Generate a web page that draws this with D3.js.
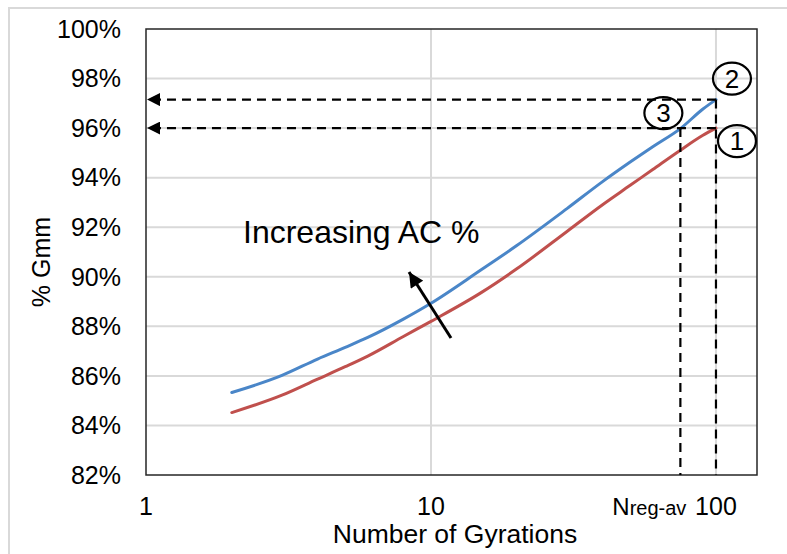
<!DOCTYPE html>
<html>
<head>
<meta charset="utf-8">
<script src="https://cdn.jsdelivr.net/npm/d3@7"></script>
<style>
body{margin:0;background:#fff;}
text{font-family:"Liberation Sans",Arial,sans-serif;fill:#000;}
</style>
</head>
<body>
<div class="chart"></div>
<script>
// gyrations and %Gmm
var gyrations = [2,3,4,5,6,8,10,15,20,30,40,50,60,75,90,100]
var gmmHighAC = [85.33,86.02,86.68,87.15,87.55,88.29,88.93,90.28,91.26,92.75,93.84,94.63,95.25,95.98,96.77,97.15]
var gmmLowAC = [84.52,85.22,85.87,86.37,86.8,87.59,88.2,89.36,90.32,91.83,92.91,93.69,94.33,95.11,95.71,96.0]
var yTicks = [82,84,86,88,90,92,94,96,98,100]
var xTicks = [1,10,100]
var nRegAv = 75
var nDesign = 100

function drawChart(){
	var width = 787, height = 554
	var svg = d3.select(".chart").append("svg").attr("width",width).attr("height",height)

	var x = d3.scaleLog().domain([1,139.3]).range([146,757])
	var y = d3.scaleLinear().domain([82,100]).range([475,29])

	// outer frame
	svg.append("rect").attr("x",9).attr("y",8).attr("width",820).attr("height",600)
	.attr("fill","none").attr("stroke","#d9d9d9").attr("stroke-width",2)

	var defs = svg.append("defs")
	defs.append("marker").attr("id","headDash").attr("viewBox","0 0 10 10")
	.attr("refX",10).attr("refY",5).attr("markerUnits","userSpaceOnUse")
	.attr("markerWidth",17).attr("markerHeight",13).attr("orient","auto")
	.append("path").attr("d","M0,0 L10,5 L0,10 Z").attr("fill","#000")
	defs.append("marker").attr("id","headBig").attr("viewBox","0 0 10 10")
	.attr("refX",10).attr("refY",5).attr("markerUnits","userSpaceOnUse")
	.attr("markerWidth",16).attr("markerHeight",15).attr("orient","auto")
	.append("path").attr("d","M0,0 L10,5 L0,10 Z").attr("fill","#000")

	// gridlines
	svg.append("g").selectAll("line").data(yTicks.slice(1,-1)).enter().append("line")
	.attr("x1",x.range()[0]).attr("x2",x.range()[1])
	.attr("y1",function(d){return y(d)}).attr("y2",function(d){return y(d)})
	.attr("stroke","#d9d9d9").attr("stroke-width",2)
	svg.append("g").selectAll("line").data(xTicks.slice(1)).enter().append("line")
	.attr("x1",function(d){return x(d)}).attr("x2",function(d){return x(d)})
	.attr("y1",y(82)).attr("y2",y(100))
	.attr("stroke","#d9d9d9").attr("stroke-width",2)

	// tick labels
	svg.append("g").selectAll("text").data(yTicks).enter().append("text")
	.attr("x",121).attr("y",function(d){return y(d)}).attr("dy","0.35em")
	.attr("text-anchor","end").style("font-size","25px")
	.text(function(d){return d+"%"})
	svg.append("g").selectAll("text").data(xTicks).enter().append("text")
	.attr("x",function(d){return x(d)}).attr("y",515)
	.attr("text-anchor","middle").style("font-size","25px")
	.text(function(d){return d})

	var nLabel = svg.append("text").attr("x",x(nRegAv)+6).attr("y",515).attr("text-anchor","end")
	nLabel.append("tspan").style("font-size","24px").text("N")
	nLabel.append("tspan").style("font-size","20px").text("reg-av")

	// axis titles
	svg.append("text").attr("x",455).attr("y",543).attr("text-anchor","middle")
	.style("font-size","26.5px").text("Number of Gyrations")
	svg.append("text").attr("transform","translate(50,262) rotate(-90)").attr("text-anchor","middle")
	.style("font-size","25px").text("% Gmm")

	// plot border
	svg.append("rect").attr("x",x.range()[0]).attr("y",y(100))
	.attr("width",x.range()[1]-x.range()[0]).attr("height",y(82)-y(100))
	.attr("fill","none").attr("stroke","#262626").attr("stroke-width",1.5)

	// curves
	var line = d3.line().x(function(d){return x(d[0])}).y(function(d){return y(d[1])}).curve(d3.curveMonotoneX)
	var series = [{vals:gmmLowAC,color:"#c0504d"},{vals:gmmHighAC,color:"#4a86c8"}]
	svg.append("g").selectAll("path").data(series).enter().append("path")
	.attr("d",function(s){return line(gyrations.map(function(g,i){return [g,s.vals[i]]}))})
	.attr("fill","none").attr("stroke",function(s){return s.color})
	.attr("stroke-width",3).attr("stroke-linecap","round")

	// dashed guides
	var hiEnd = gmmHighAC[gmmHighAC.length-1]
	var loEnd = gmmLowAC[gmmLowAC.length-1]
	var guides = [
		[x(nDesign),y(hiEnd),x(1)+1,y(hiEnd),true],
		[x(nDesign),y(loEnd),x(1)+1,y(loEnd),true],
		[x(nDesign),y(hiEnd),x(nDesign),y(82),false],
		[x(nRegAv),y(loEnd),x(nRegAv),y(82),false]
	]
	svg.append("g").selectAll("line").data(guides).enter().append("line")
	.attr("x1",function(d){return d[0]}).attr("y1",function(d){return d[1]})
	.attr("x2",function(d){return d[2]}).attr("y2",function(d){return d[3]})
	.attr("stroke","#000").attr("stroke-width",2.2).attr("stroke-dasharray","9,6")
	.attr("marker-end",function(d){return d[4] ? "url(#headDash)" : null})

	// increasing AC arrow
	svg.append("line").attr("x1",451).attr("y1",338).attr("x2",409).attr("y2",272)
	.attr("stroke","#000").attr("stroke-width",3).attr("marker-end","url(#headBig)")
	svg.append("text").attr("x",243).attr("y",243).style("font-size","32px").text("Increasing AC %")

	// numbered callouts
	var callouts = [
		{n:"1",cx:x(nDesign)+21,cy:y(loEnd)+13},
		{n:"2",cx:x(nDesign)+16,cy:y(hiEnd)-21},
		{n:"3",cx:x(nRegAv)-17,cy:y(loEnd)-15}
	]
	var cg = svg.append("g").selectAll("g").data(callouts).enter().append("g")
	cg.append("ellipse").attr("cx",function(d){return d.cx}).attr("cy",function(d){return d.cy})
	.attr("rx",19).attr("ry",16).attr("fill","none").attr("stroke","#000").attr("stroke-width",2.2)
	cg.append("text").attr("x",function(d){return d.cx}).attr("y",function(d){return d.cy}).attr("dy","0.36em")
	.attr("text-anchor","middle").style("font-size","26px").text(function(d){return d.n})
}
drawChart()
</script>
</body>
</html>
